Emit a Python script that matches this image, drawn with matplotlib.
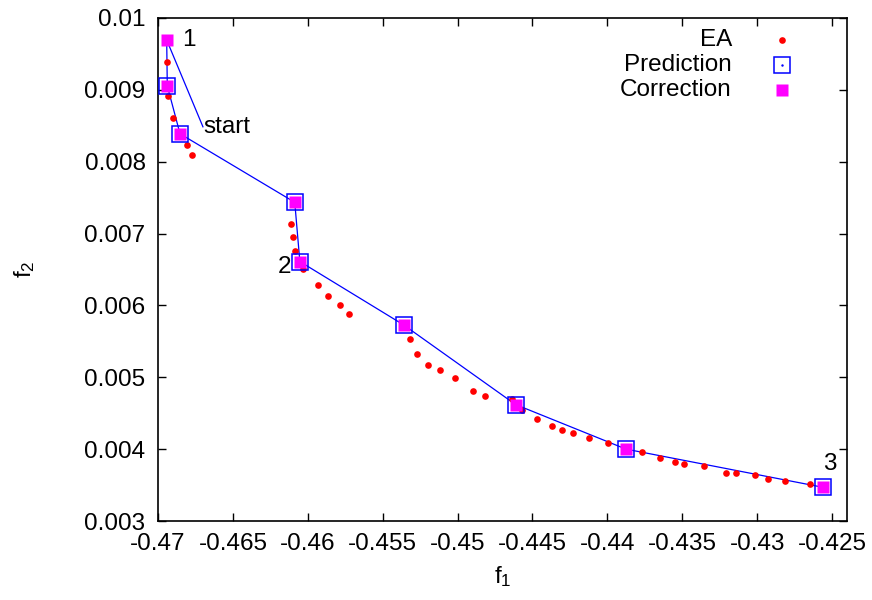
import matplotlib
matplotlib.use("Agg")
import matplotlib.pyplot as plt

plt.rcParams['font.family'] = ['Liberation Sans', 'DejaVu Sans']
plt.rcParams['mathtext.fontset'] = 'custom'
plt.rcParams['mathtext.rm'] = 'Liberation Sans'
plt.rcParams['mathtext.it'] = 'Liberation Sans'

# Evolutionary algorithm front
ea_f1 = [-0.46942, -0.46931, -0.46898, -0.46809, -0.46771, -0.46109, -0.46098,
         -0.46087, -0.46035, -0.45929, -0.45862, -0.45782, -0.45727, -0.45317,
         -0.45273, -0.45195, -0.45118, -0.45018, -0.44898, -0.44820, -0.44635,
         -0.44571, -0.44473, -0.44371, -0.44305, -0.44231, -0.44122, -0.43995,
         -0.43771, -0.43649, -0.43551, -0.43485, -0.43353, -0.43209, -0.43142,
         -0.43013, -0.42929, -0.42813, -0.42649]
ea_f2 = [0.009385, 0.008921, 0.008615, 0.008236, 0.008097, 0.007139, 0.006954,
         0.006764, 0.006510, 0.006278, 0.006129, 0.006000, 0.005885, 0.005531,
         0.005324, 0.005171, 0.005097, 0.004990, 0.004810, 0.004740, 0.004694,
         0.004542, 0.004421, 0.004324, 0.004271, 0.004218, 0.004153, 0.004079,
         0.003958, 0.003879, 0.003815, 0.003792, 0.003768, 0.003671, 0.003663,
         0.003643, 0.003579, 0.003551, 0.003518]

# Continuation steps
corr_f1 = [-0.46942, -0.46938, -0.46853, -0.46087, -0.46053, -0.45360,
           -0.44613, -0.43875, -0.42558]
corr_f2 = [0.009694, 0.009056, 0.008389, 0.007435, 0.006611, 0.005729,
           0.004621, 0.004000, 0.003468]
pred_f1 = corr_f1[1:]
pred_f2 = corr_f2[1:]

start_f1 = -0.46700
start_f2 = 0.008486

xticks = [-0.47, -0.465, -0.46, -0.455, -0.45, -0.445, -0.44, -0.435, -0.43, -0.425]
xtick_labels = ["-0.47", "-0.465", "-0.46", "-0.455", "-0.45", "-0.445", "-0.44",
                "-0.435", "-0.43", "-0.425"]
yticks = [0.003, 0.004, 0.005, 0.006, 0.007, 0.008, 0.009, 0.01]
ytick_labels = ["0.003", "0.004", "0.005", "0.006", "0.007", "0.008", "0.009", "0.01"]

FS = 17.5

fig = plt.figure(figsize=(8.72, 6.0), dpi=100)
ax = fig.add_axes([158 / 872, 1 - 521 / 600, 689 / 872, 503 / 600])

# path: start -> corrections
ax.plot([start_f1] + corr_f1, [start_f2] + corr_f2, color='#0000ff', lw=0.9, zorder=2)

ax.plot(ea_f1, ea_f2, linestyle='none', marker='o', ms=4.8, color='#ff0000',
        mec='none', zorder=3)
ax.plot(pred_f1, pred_f2, linestyle='none', marker='s', ms=11.5, mfc='none',
        mec='#0000ff', mew=1.1, zorder=4)
ax.plot(corr_f1, corr_f2, linestyle='none', marker='s', ms=8.8, color='#ff00ff',
        mec='none', zorder=5)

ax.text(start_f1, start_f2, "start", fontsize=FS, ha='left', va='center')
ax.text(corr_f1[0] + 0.0010, corr_f2[0], "1", fontsize=FS, ha='left', va='center')
ax.text(corr_f1[4] - 0.00055, corr_f2[4] - 0.00008, "2", fontsize=FS, ha='right', va='center')
ax.text(corr_f1[8] + 0.0004, corr_f2[8] + 0.00032, "3", fontsize=FS, ha='center', va='center')

# key
tr = ax.transAxes
kx_text, kx_mark = 0.833, 0.906
rows = [0.956, 0.906, 0.856]
ax.text(kx_text, rows[0], "EA", transform=tr, fontsize=FS, ha='right', va='center')
ax.plot([kx_mark], [rows[0]], transform=tr, marker='o', ms=4.8, color='#ff0000',
        mec='none', clip_on=False)
ax.text(kx_text, rows[1], "Prediction", transform=tr, fontsize=FS, ha='right', va='center')
ax.plot([kx_mark], [rows[1]], transform=tr, marker='s', ms=11.5, mfc='none',
        mec='#0000ff', mew=1.1, clip_on=False)
ax.plot([kx_mark], [rows[1]], transform=tr, marker='.', ms=1.5, color='#0000ff',
        clip_on=False)
ax.text(kx_text, rows[2], "Correction", transform=tr, fontsize=FS, ha='right', va='center')
ax.plot([kx_mark], [rows[2]], transform=tr, marker='s', ms=8.8, color='#ff00ff',
        mec='none', clip_on=False)

ax.set_xlim(-0.47, -0.424)
ax.set_ylim(0.003, 0.01)
ax.set_xticks(xticks)
ax.set_xticklabels(xtick_labels)
ax.set_yticks(yticks)
ax.set_yticklabels(ytick_labels)
ax.tick_params(direction='in', length=6, width=1, top=True, right=True,
               labelsize=FS)
ax.tick_params(axis='x', pad=9)
ax.tick_params(axis='y', pad=9)
for s in ax.spines.values():
    s.set_linewidth(1.2)

ax.set_xlabel("f$_\\mathregular{1}$", fontsize=FS, labelpad=6)
ax.set_ylabel("f$_\\mathregular{2}$", fontsize=FS, labelpad=34)

fig.savefig("out.png", dpi=100)
